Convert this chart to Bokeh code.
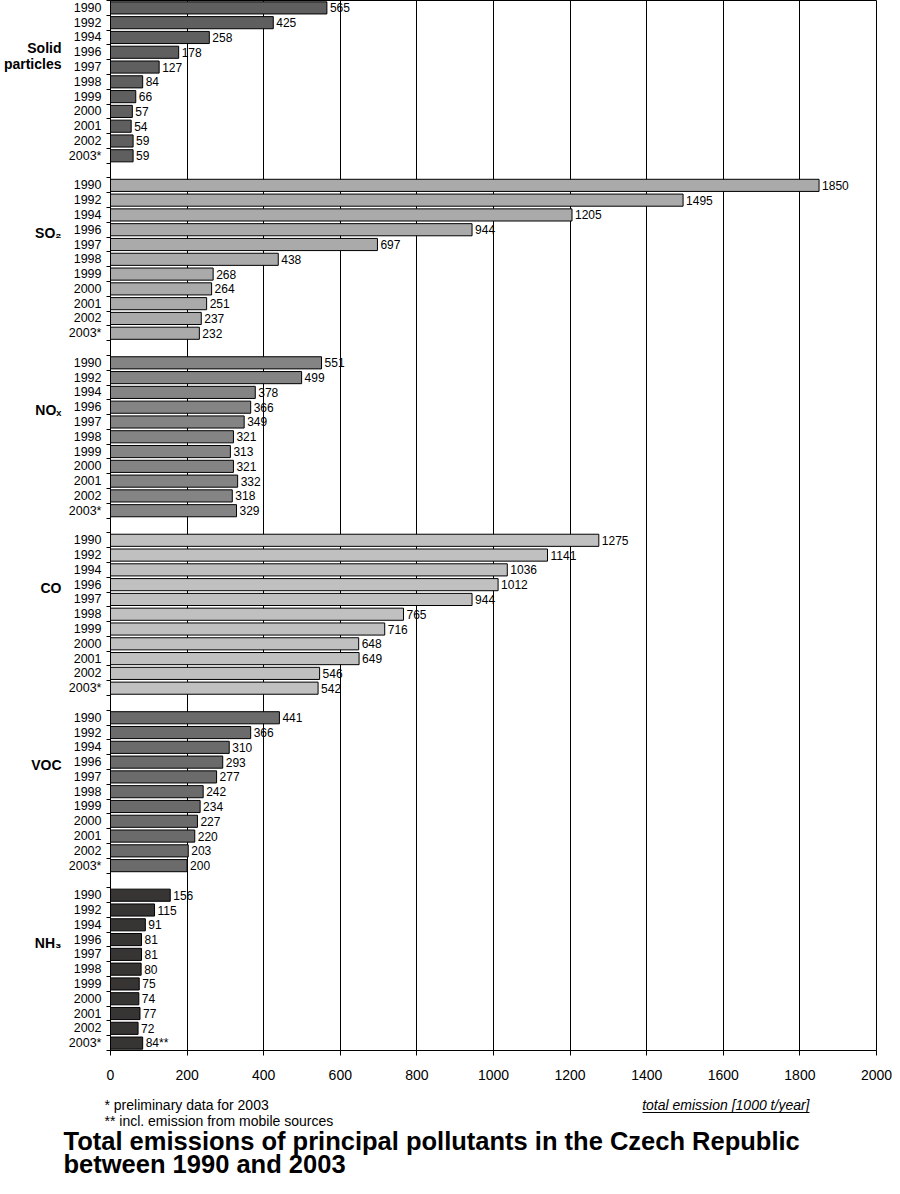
from bokeh.plotting import figure
from bokeh.layouts import column
from bokeh.models import Range1d, FixedTicker, LinearAxis, ColumnDataSource
from bokeh.core.properties import value
from bokeh.embed import file_html
from bokeh.resources import INLINE

# ---------------- data ----------------
years = ["1990", "1992", "1994", "1996", "1997", "1998", "1999", "2000", "2001", "2002", "2003*"]
pollutants = ["Solid particles", "SO₂", "NOₓ", "CO", "VOC", "NH₃"]

solid_particles = [565, 425, 258, 178, 127, 84, 66, 57, 54, 59, 59]
so2 = [1850, 1495, 1205, 944, 697, 438, 268, 264, 251, 237, 232]
nox = [551, 499, 378, 366, 349, 321, 313, 321, 332, 318, 329]
co = [1275, 1141, 1036, 1012, 944, 765, 716, 648, 649, 546, 542]
voc = [441, 366, 310, 293, 277, 242, 234, 227, 220, 203, 200]
nh3 = [156, 115, 91, 81, 81, 80, 75, 74, 77, 72, 84]
nh3_suffix = ["", "", "", "", "", "", "", "", "", "", "**"]

x_ticks = [0, 200, 400, 600, 800, 1000, 1200, 1400, 1600, 1800, 2000]

series = [solid_particles, so2, nox, co, voc, nh3]
suffixes = [[""] * len(years)] * 5 + [nh3_suffix]
colors = ["#5f5f5f", "#aaaaaa", "#848484", "#c0c0c0", "#6b6b6b", "#373533"]

footnote1 = "* preliminary data for 2003"
footnote2 = "** incl. emission from mobile sources"
unit_note = "total emission [1000 t/year]"
title1 = "Total emissions of principal pollutants in the Czech Republic"
title2 = "between 1990 and 2003"

# ---------------- layout ----------------
FONT = "Liberation Sans"
W = 892
H1, H2 = 1092, 86
per_group = len(years) + 1
n_slots = len(pollutants) * per_group - 1

ys, vals, cols, lbls = [], [], [], []
for g, (s, suf) in enumerate(zip(series, suffixes)):
    for i, v in enumerate(s):
        ys.append(g * per_group + i + 0.5)
        vals.append(v)
        cols.append(colors[g])
        lbls.append(f"{v}{suf[i]}")
src = ColumnDataSource(dict(y=ys, v=vals, c=cols, t=lbls))

p = figure(width=W, height=H1,
           x_range=Range1d(0, 2000), y_range=Range1d(n_slots, 0),
           output_backend="svg", toolbar_location=None,
           min_border_left=107, min_border_right=16,
           min_border_top=0, min_border_bottom=42)
p.background_fill_color = "white"
p.border_fill_color = "white"
p.outline_line_color = "black"
p.outline_line_width = 1
p.outline_line_alpha = 1

p.hbar(y="y", left=0, right="v", height=0.82, fill_color="c",
       line_color="black", line_width=1, source=src)
p.text(x="v", y="y", text="t", x_offset=3, text_baseline="middle",
       text_align="left", text_font=value(FONT), text_font_size="12px",
       text_color="black", source=src)

# x axis
p.xaxis.ticker = FixedTicker(ticks=x_ticks)
p.xaxis.axis_line_color = "black"
p.xaxis.major_tick_line_color = "black"
p.xaxis.major_tick_out = 5
p.xaxis.major_tick_in = 0
p.xaxis.minor_tick_line_color = None
p.xaxis.major_label_text_font = FONT
p.xaxis.major_label_text_font_size = "14px"
p.xaxis.major_label_text_color = "black"
p.xaxis.major_label_standoff = 14
p.xgrid.ticker = FixedTicker(ticks=x_ticks)
p.xgrid.grid_line_color = "black"
p.xgrid.grid_line_width = 1
p.ygrid.grid_line_color = None

# y axis: year labels at bar centres, ticks at slot boundaries
centers = []
overrides = {}
for g in range(len(pollutants)):
    for i, yr in enumerate(years):
        c = g * per_group + i + 0.5
        centers.append(c)
        overrides[c] = yr
p.yaxis.ticker = FixedTicker(ticks=centers, minor_ticks=list(range(n_slots + 1)))
p.yaxis.major_label_overrides = overrides
p.yaxis.axis_line_color = "black"
p.yaxis.major_tick_out = 0
p.yaxis.major_tick_in = 0
p.yaxis.minor_tick_out = 4
p.yaxis.minor_tick_in = 0
p.yaxis.minor_tick_line_color = "black"
p.yaxis.major_label_standoff = 5
p.yaxis.major_label_text_font = FONT
p.yaxis.major_label_text_font_size = "12.5px"
p.yaxis.major_label_text_color = "black"

# second left axis carrying the pollutant names
g_ticks, g_over = [], {}
for g, name in enumerate(pollutants):
    base = g * per_group
    if g == 0:
        first, second = name.split(" ")
        g_ticks += [base + 3.2, base + 4.3]
        g_over[base + 3.2] = first
        g_over[base + 4.3] = second
    else:
        g_ticks.append(base + 3.7)
        g_over[base + 3.7] = name
ax2 = LinearAxis(ticker=FixedTicker(ticks=g_ticks), major_label_overrides=g_over,
                 axis_line_color=None, major_tick_line_color=None,
                 minor_tick_line_color=None, major_tick_out=0, major_tick_in=0,
                 minor_tick_out=0, minor_tick_in=0, major_label_standoff=4,
                 major_label_text_font=FONT, major_label_text_font_style="bold",
                 major_label_text_font_size="14px", major_label_text_color="black")
p.add_layout(ax2, "left")

# ---------------- notes and title (second figure, pixel coordinates) ----------------
p2 = figure(width=W, height=H2, x_range=Range1d(0, W), y_range=Range1d(H2, 0),
            output_backend="svg", toolbar_location=None,
            x_axis_type=None, y_axis_type=None,
            min_border_left=0, min_border_right=0, min_border_top=0, min_border_bottom=0)
p2.outline_line_color = None
p2.grid.grid_line_color = None
p2.background_fill_color = "white"
p2.border_fill_color = "white"

notes = ColumnDataSource(dict(
    x=[104, 104, 809, 63, 63],
    y=[12, 28, 12, 48, 71],
    t=[footnote1, footnote2, unit_note, title1, title2],
    size=["14px", "14px", "14px", "25.5px", "25.5px"],
    style=["normal", "normal", "italic", "bold", "bold"],
    align=["left", "left", "right", "left", "left"],
))
p2.text(x="x", y="y", text="t", text_font=value(FONT), text_font_size="size",
        text_font_style="style", text_align="align", text_baseline="middle",
        text_color="black", source=notes)
p2.segment(x0=[642], y0=[20], x1=[809], y1=[20], line_color="black", line_width=1)

for fig in (p, p2):
    if "frame_align" in fig.properties():
        fig.frame_align = False

layout = column(p, p2, spacing=0)
open("out.html", "w").write(file_html(layout, INLINE))
